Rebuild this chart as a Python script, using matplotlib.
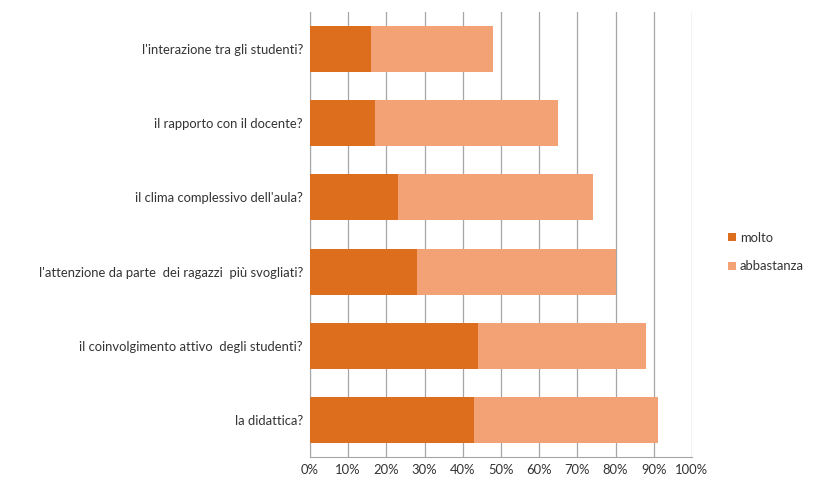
import numpy as np
import matplotlib.pyplot as plt

plt.rcParams['font.family'] = ['Lato', 'DejaVu Sans']

categorie = [
    "la didattica?",
    "il coinvolgimento attivo  degli studenti?",
    "l'attenzione da parte  dei ragazzi  più svogliati?",
    "il clima complessivo dell'aula?",
    "il rapporto con il docente?",
    "l'interazione tra gli studenti?",
]
molto = [43, 44, 28, 23, 17, 16]
abbastanza = [48, 44, 52, 51, 48, 32]

col_molto = '#DD6E1E'
col_abb = '#F2A274'

fig = plt.figure(figsize=(8.14, 4.87), dpi=100)
ax = fig.add_axes([310 / 814, 1 - 457 / 487, 382 / 814, 445 / 487])

y = np.arange(len(categorie))
ax.barh(y, molto, height=0.62, color=col_molto, label='molto', zorder=3)
ax.barh(y, abbastanza, left=molto, height=0.62, color=col_abb,
        label='abbastanza', zorder=3)

ax.set_xlim(0, 100)
ax.set_ylim(-0.5, len(categorie) - 0.5)
ax.set_xticks(np.arange(0, 101, 10))
ax.set_xticklabels([f'{v}%' for v in range(0, 101, 10)])
ax.set_yticks(y)
ax.set_yticklabels(categorie)
ax.tick_params(axis='both', length=0, labelsize=9.4, colors='#333333')
ax.tick_params(axis='x', pad=5)
ax.tick_params(axis='y', pad=5)

ax.grid(axis='x', color='#A6A6A6', linewidth=0.9, zorder=0)
for s in ['top', 'right']:
    ax.spines[s].set_visible(False)
ax.spines['left'].set_color('#A6A6A6')
ax.spines['bottom'].set_color('#A6A6A6')

ax.legend(loc='center left', bbox_to_anchor=(728 / 814, 1 - 252 / 487),
          bbox_transform=fig.transFigure, frameon=False, fontsize=9.4,
          handlelength=0.6, handleheight=0.6, handletextpad=0.3,
          labelspacing=1.3, borderaxespad=0, borderpad=0,
          labelcolor='#333333')

fig.savefig('out.png', dpi=100)
